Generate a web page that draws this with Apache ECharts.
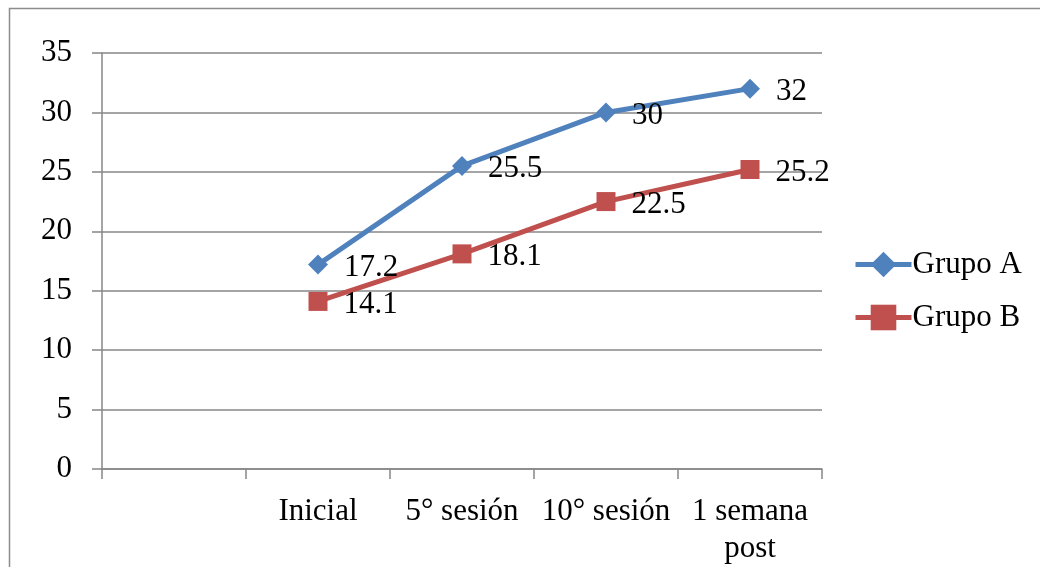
<!DOCTYPE html>
<html>
<head>
<meta charset="utf-8">
<script src="https://cdn.jsdelivr.net/npm/echarts@6/dist/echarts.min.js"></script>
<style>
  html, body { margin: 0; padding: 0; background: #fff; }
  #chart { width: 1040px; height: 567px; }
</style>
</head>
<body>
<div id="chart"></div>
<script>
// categories (first slot is empty in the original)
const categories = ['', 'Inicial', '5° sesión', '10° sesión', '1 semana\npost']
const grupoA = [null, 17.2, 25.5, 30, 32]
const grupoB = [null, 14.1, 18.1, 22.5, 25.2]

const font = 'Liberation Serif'
const gray = '#878787'

var myChart = echarts.init(document.getElementById('chart'))

myChart.setOption({
  animation: false,
  textStyle: { fontFamily: font },
  graphic: [
    {
      type: 'rect',
      shape: { x: 9.5, y: 8.5, width: 1100, height: 700 },
      style: { fill: 'none', stroke: '#8c8c8c', lineWidth: 1.5 },
      silent: true
    }
  ],
  grid: {
    left: 102,
    right: 218,
    top: 53,
    bottom: 96
  },
  legend: {
    orient: 'vertical',
    left: 848,
    top: 244,
    itemGap: 22,
    itemWidth: 56,
    itemHeight: 32,
    lineStyle: { width: 5 },
    textStyle: { fontFamily: font, fontSize: 31, color: '#000', padding: [0, 0, 0, -4] },
    data: ['Grupo A', 'Grupo B']
  },
  xAxis: {
    type: 'category',
    data: categories,
    boundaryGap: true,
    axisLine: { lineStyle: { color: gray, width: 1.5 } },
    axisTick: { show: true, length: 10, interval: 0, lineStyle: { color: gray, width: 1.5 } },
    axisLabel: {
      interval: 0,
      margin: 24,
      fontFamily: font,
      fontSize: 31,
      color: '#000',
      lineHeight: 37
    }
  },
  yAxis: {
    type: 'value',
    min: 0,
    max: 35,
    interval: 5,
    axisLine: { show: true, lineStyle: { color: gray, width: 1.5 } },
    axisTick: { show: true, length: 10, lineStyle: { color: gray, width: 1.5 } },
    splitLine: { lineStyle: { color: gray, width: 1.5 } },
    axisLabel: {
      margin: 30,
      fontFamily: font,
      fontSize: 31,
      color: '#000'
    }
  },
  series: [
    {
      name: 'Grupo A',
      type: 'line',
      data: grupoA,
      symbol: 'diamond',
      symbolSize: 20,
      lineStyle: { color: '#4F81BD', width: 5 },
      itemStyle: { color: '#4F81BD' },
      label: {
        show: true,
        position: 'right',
        distance: 16,
        offset: [0, 3],
        fontFamily: font,
        fontSize: 31,
        color: '#000'
      }
    },
    {
      name: 'Grupo B',
      type: 'line',
      data: grupoB,
      symbol: 'rect',
      symbolSize: 19,
      lineStyle: { color: '#C0504D', width: 5 },
      itemStyle: { color: '#C0504D' },
      label: {
        show: true,
        position: 'right',
        distance: 16,
        offset: [0, 3],
        fontFamily: font,
        fontSize: 31,
        color: '#000'
      }
    }
  ]
})
</script>
</body>
</html>
